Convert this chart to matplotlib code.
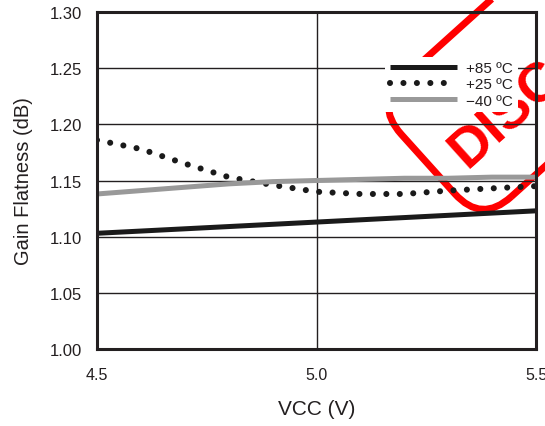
import matplotlib
matplotlib.use('Agg')
import matplotlib.pyplot as plt
from matplotlib.patches import FancyBboxPatch
from matplotlib.transforms import Affine2D

vcc = [4.5, 4.6, 4.7, 4.8, 4.9, 5.0, 5.1, 5.2, 5.3, 5.4, 5.5]
gain_85 = [1.103, 1.105, 1.107, 1.109, 1.111, 1.113, 1.115, 1.117, 1.119, 1.121, 1.123]
gain_25 = [1.186, 1.178, 1.165, 1.153, 1.146, 1.140, 1.138, 1.138, 1.141, 1.143, 1.145]
gain_m40 = [1.138, 1.141, 1.144, 1.147, 1.149, 1.150, 1.151, 1.152, 1.152, 1.153, 1.153]
labels = ['+85 \u00baC', '+25 \u00baC', '\u221240 \u00baC']

plt.rcParams['font.family'] = ['Liberation Sans', 'DejaVu Sans']

fig = plt.figure(figsize=(5.45, 4.27), dpi=100)
ax = fig.add_axes([97 / 545, 1 - 350 / 427, 439 / 545, 337 / 427])
ax.patch.set_alpha(0)

# red stamp behind the plot
tr = Affine2D().rotate_deg(42).translate(428, 262)
stamp = FancyBboxPatch((0, -80), 460, 160, boxstyle='round,pad=0,rounding_size=40',
                       fill=False, edgecolor='red', lw=5, transform=tr, zorder=-5)
fig.patches.append(stamp)
fig.text(26, -16, 'DISCONTINUED', transform=tr, rotation=42, rotation_mode='anchor',
         ha='left', va='center', color='red', fontsize=40, fontweight='bold',
         zorder=-5)

ax.plot(vcc, gain_85, color='#1a1a1a', lw=3.6, label=labels[0], solid_capstyle='butt')
ax.plot(vcc, gain_25, color='#1a1a1a', lw=4.4, ls=(0, (0.001, 2.2)),
        dash_capstyle='round', label=labels[1])
ax.plot(vcc, gain_m40, color='#999999', lw=3.6, label=labels[2], solid_capstyle='butt')

ax.set_xlim(4.5, 5.5)
ax.set_ylim(1.0, 1.3)
ax.set_xticks([4.5, 5.0, 5.5])
ax.set_xticklabels(['4.5', '5.0', '5.5'])
ax.set_yticks([1.0, 1.05, 1.1, 1.15, 1.2, 1.25, 1.3])
ax.set_yticklabels(['1.00', '1.05', '1.10', '1.15', '1.20', '1.25', '1.30'])
ax.tick_params(length=0, labelsize=12, colors='#231f20')
ax.tick_params(axis='x', pad=13, labelsize=11.5)
ax.tick_params(axis='y', pad=11)
ax.grid(True, color='#231f20', lw=1)
for s in ax.spines.values():
    s.set_linewidth(2.2)
    s.set_color('#231f20')

ax.set_xlabel('VCC (V)', fontsize=15, labelpad=12, color='#231f20')
ax.set_ylabel('Gain Flatness (dB)', fontsize=14.5, labelpad=12, color='#231f20')

leg = ax.legend(loc='center', bbox_to_anchor=(0.808, 0.785), frameon=True, fancybox=False,
                edgecolor='none', facecolor='white', framealpha=1, fontsize=11,
                handlelength=4.4, handletextpad=0.6, labelspacing=0.15,
                borderpad=0.3, borderaxespad=0)
for t in leg.get_texts():
    t.set_color('#231f20')

fig.savefig('out.png', dpi=100)
